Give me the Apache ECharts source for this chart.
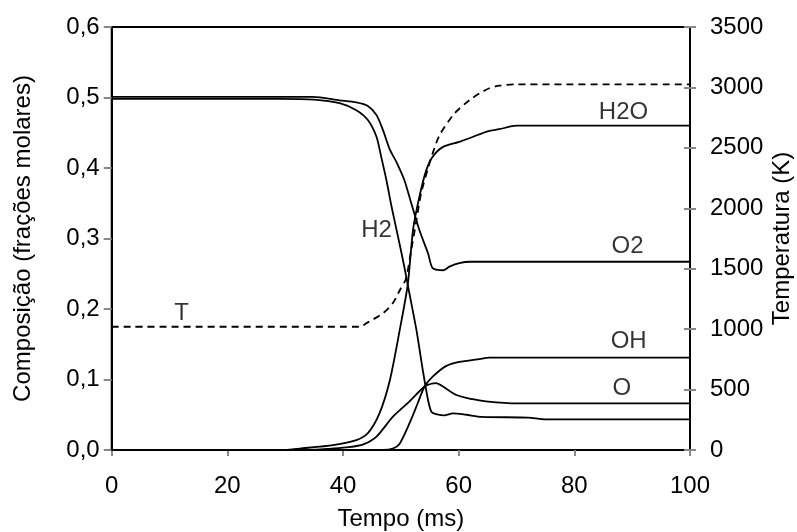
<!DOCTYPE html>
<html>
<head>
<meta charset="utf-8">
<script src="https://cdn.jsdelivr.net/npm/echarts@6/dist/echarts.min.js"></script>
<style>
html,body{margin:0;padding:0;background:#fff;}
#chart{width:797px;height:532px;}
</style>
</head>
<body>
<div id="chart"></div>
<script>
// Tempo (ms) vs fração molar
const h2 = [[0,0.498],[29,0.498],[35,0.497],[39.4,0.492],[42.3,0.482],[44.3,0.468],[45.8,0.444],[46.6,0.416],[47.5,0.383],[48.4,0.345],[49.5,0.303],[50.6,0.26],[51.2,0.234],[52.7,0.17],[53.8,0.113],[54.7,0.071],[55.3,0.054],[56.1,0.051],[57.5,0.049],[59,0.052],[61.3,0.05],[64,0.047],[72,0.046],[75,0.0435],[100,0.0435]];
const o2 = [[0,0.501],[29,0.501],[34.8,0.501],[39.4,0.496],[42.3,0.493],[44.3,0.488],[45.8,0.475],[46.9,0.454],[48.1,0.426],[49.2,0.409],[50.6,0.383],[51.8,0.35],[53.2,0.312],[54.7,0.279],[55.5,0.258],[57.3,0.255],[58.4,0.26],[60.1,0.265],[62,0.267],[100,0.267]];
const h2o = [[0,0],[30,0],[32.5,0.002],[38.3,0.007],[42.3,0.014],[44.3,0.024],[46.3,0.052],[48.1,0.099],[49.8,0.17],[51.2,0.235],[52.1,0.312],[53.2,0.359],[54.4,0.397],[55.5,0.416],[57.3,0.43],[60.1,0.437],[62.4,0.444],[65,0.452],[67,0.455],[70,0.46],[100,0.46]];
const oRad = [[0,0],[34,0],[38,0.002],[41,0.004],[43.5,0.008],[45.8,0.019],[48.6,0.047],[51.5,0.069],[54.1,0.09],[55.3,0.094],[56.1,0.095],[57.3,0.09],[59.6,0.078],[62.4,0.072],[64.7,0.069],[70,0.066],[100,0.066]];
const oh = [[0,0],[47,0],[48.6,0.002],[49.8,0.009],[51.5,0.038],[52.9,0.066],[54.1,0.09],[55.5,0.104],[57.8,0.119],[60.1,0.125],[63.6,0.129],[65.3,0.131],[100,0.131]];
// Temperatura (K)
const temp = [[0,1020],[43,1020],[44,1048],[46.9,1131],[48.6,1214],[49.8,1320],[50.9,1420],[51.8,1655],[52.7,1903],[53.5,2124],[54.7,2331],[55.5,2455],[56.7,2606],[59.3,2786],[61.9,2896],[63.6,2951],[65.3,2993],[67,3015],[70,3025],[100,3025]];
// Rótulos das curvas (tempo, fração)
const labelNames = ['H2O','O2','OH','O','H2','T'];
const labelAnchors = [[88.5,0.479],[89.2,0.289],[89.4,0.1536],[88.2,0.0875],[45.8,0.312],[12.1,0.194]];
const xTicks = [0,20,40,60,80,100];

const FONT = 'Liberation Sans, Arial, sans-serif';
const FS = 24;
const chart = echarts.init(document.getElementById('chart'), null, {renderer:'canvas'});

function line(name, data, yIdx, dashed){
  return {
    name, type:'line', data, yAxisIndex:yIdx, showSymbol:false, symbol:'none',
    smooth:0.25, animation:false,
    lineStyle:{color:'#000', width:1.8, type: dashed ? [7,5] : 'solid'}
  };
}

chart.setOption({
  backgroundColor:'#fff',
  animation:false,
  textStyle:{fontFamily:FONT},
  grid:{left:111.7, right:107, top:27, bottom:82, show:true, borderColor:'#000', borderWidth:2,
        containLabel:false, outerBoundsMode:'none'},
  xAxis:{
    type:'value', min:xTicks[0], max:xTicks[xTicks.length-1], interval:20,
    name:'Tempo (ms)', nameLocation:'middle', nameGap:57, nameMoveOverlap:false,
    nameTextStyle:{fontSize:FS, color:'#000', fontFamily:FONT},
    axisLine:{lineStyle:{color:'#000', width:2}},
    axisTick:{show:true, length:6, lineStyle:{color:'#888', width:2}},
    axisLabel:{fontSize:FS, color:'#000', margin:24, fontFamily:FONT},
    splitLine:{show:false}
  },
  yAxis:[
    {
      type:'value', min:0, max:0.6, interval:0.1, position:'left',
      name:'Composição (frações molares)', nameLocation:'middle', nameGap:76, nameRotate:90,
      nameMoveOverlap:false,
      nameTextStyle:{fontSize:FS, color:'#000', fontFamily:FONT},
      axisLine:{show:true, lineStyle:{color:'#000', width:2}},
      axisTick:{show:true, length:8, lineStyle:{color:'#888', width:2}},
      axisLabel:{fontSize:FS, color:'#000', margin:12, fontFamily:FONT,
        formatter:v=>v.toFixed(1).replace('.',',')},
      splitLine:{show:false}
    },
    {
      type:'value', min:0, max:3500, interval:500, position:'right',
      name:'Temperatura (K)', nameLocation:'middle', nameGap:80, nameRotate:90,
      nameMoveOverlap:false,
      nameTextStyle:{fontSize:FS, color:'#000', fontFamily:FONT},
      axisLine:{show:true, lineStyle:{color:'#000', width:2}},
      axisTick:{show:true, length:6, lineStyle:{color:'#888', width:2}},
      axisLabel:{fontSize:FS, color:'#000', margin:20, fontFamily:FONT,
        formatter:v=>String(Math.round(v))},
      splitLine:{show:false}
    },
    {
      type:'value', min:0, max:3500, interval:500, position:'right',
      axisLine:{show:false},
      axisTick:{show:true, inside:true, length:6, lineStyle:{color:'#888', width:2}},
      axisLabel:{show:false},
      splitLine:{show:false}
    }
  ],
  series:[
    line('H2', h2, 0, false),
    line('O2', o2, 0, false),
    line('H2O', h2o, 0, false),
    line('O', oRad, 0, false),
    line('OH', oh, 0, false),
    line('T', temp, 1, true),
    {
      type:'scatter', yAxisIndex:0, symbolSize:1, animation:false, silent:true,
      itemStyle:{color:'rgba(0,0,0,0)'},
      data: labelNames.map((n,i)=>({name:n, value:labelAnchors[i]})),
      label:{show:true, position:'inside', formatter:p=>p.name, color:'#000',
        fontSize:FS, fontFamily:FONT}
    }
  ]
});
</script>
</body>
</html>
